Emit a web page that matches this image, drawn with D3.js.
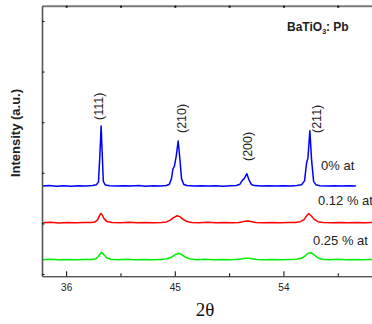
<!DOCTYPE html>
<html>
<head>
<meta charset="utf-8">
<script src="https://cdn.jsdelivr.net/npm/d3@7"></script>
<style>
  body { margin: 0; background: #fff; }
  svg { display: block; font-family: Arial, "Liberation Sans", sans-serif; }
</style>
</head>
<body>
<svg id="chart" width="372" height="324"></svg>
<script>
// XRD patterns, [2theta, counts]
const pattern0 = [
  [34.0,1739],[34.6,1748],[35.2,1735],[35.8,1744],[36.4,1736],[37.0,1746],[37.6,1740],[38.2,1748],
  [38.5,1762],[38.68,1820],[38.8,2380],[38.9,2925],[38.98,2420],[39.08,1830],[39.25,1758],[39.6,1744],
  [40.2,1737],[40.8,1746],[41.4,1738],[42.0,1747],[42.6,1736],[43.2,1745],[43.8,1741],[44.3,1750],
  [44.55,1775],[44.72,1880],[44.85,2080],[44.97,2130],[45.12,2330],[45.28,2628],[45.42,2280],[45.56,1880],
  [45.75,1770],[46.0,1748],[46.6,1737],[47.2,1746],[47.8,1739],[48.4,1745],[49.0,1736],[49.6,1744],
  [50.1,1750],[50.4,1775],[50.6,1850],[50.75,1885],[50.97,1982],[51.15,1860],[51.35,1768],[51.6,1747],
  [52.2,1738],[52.8,1746],[53.4,1737],[54.0,1744],[54.6,1739],[55.1,1748],[55.5,1765],[55.75,1840],
  [55.92,2200],[56.03,2290],[56.19,2832],[56.33,2260],[56.5,1830],[56.7,1762],[57.0,1746],[57.6,1738],
  [58.2,1745],[58.8,1737],[59.4,1744],[60.0,1739]
];
const pattern12 = [
  [34.0,1014],[34.7,1022],[35.4,1010],[36.1,1019],[36.8,1012],[37.5,1020],[38.1,1016],[38.4,1030],
  [38.6,1070],[38.75,1150],[38.88,1199],[39.0,1160],[39.15,1090],[39.4,1036],[39.8,1018],[40.5,1012],
  [41.2,1021],[41.9,1013],[42.6,1019],[43.3,1011],[43.9,1020],[44.3,1030],[44.6,1060],[44.9,1115],
  [45.2,1152],[45.45,1130],[45.7,1080],[46.0,1036],[46.4,1018],[47.0,1012],[47.7,1021],[48.4,1013],
  [49.1,1019],[49.8,1012],[50.3,1020],[50.6,1032],[50.85,1045],[51.05,1047],[51.3,1036],[51.7,1020],
  [52.3,1012],[53.0,1020],[53.7,1013],[54.4,1019],[55.0,1018],[55.4,1035],[55.7,1075],[55.95,1160],
  [56.11,1192],[56.3,1150],[56.55,1080],[56.85,1034],[57.3,1017],[58.0,1012],[58.7,1020],[59.4,1013],
  [60.1,1019],[60.8,1012],[61.5,1018],[62.0,1014]
];
const pattern25 = [
  [34.0,283],[34.7,290],[35.4,280],[36.1,288],[36.8,281],[37.5,289],[38.1,286],[38.45,300],
  [38.68,350],[38.92,429],[39.1,390],[39.35,320],[39.7,292],[40.3,282],[41.0,290],[41.7,281],
  [42.4,288],[43.1,280],[43.8,289],[44.3,298],[44.7,330],[45.05,385],[45.35,409],[45.6,380],
  [45.9,330],[46.3,295],[46.8,284],[47.5,290],[48.2,281],[48.9,288],[49.6,280],[50.2,290],
  [50.6,300],[50.85,310],[51.1,310],[51.4,300],[51.8,288],[52.4,281],[53.1,289],[53.8,282],
  [54.5,288],[55.1,292],[55.5,310],[55.8,360],[56.05,410],[56.3,421],[56.55,380],[56.85,320],
  [57.2,292],[57.8,283],[58.5,290],[59.2,281],[59.9,288],[60.6,282],[61.3,289],[62.0,284]
];

const seriesNames = ["0% at", "0.12 % at", "0.25 % at"];
const peakNames = ["(111)", "(210)", "(200)", "(211)"];
const xMajorTicks = [36, 45, 54];
const xMinorTicks = [40.5, 49.5, 58.5];
const yTicks = [0, 1000, 2000, 3000, 4000, 5000];

const svg = d3.select("#chart");

// plot frame: left edge at 42, bottom axis at 276
const x = d3.scaleLinear().domain([34, 62]).range([42, 380]);
const y = d3.scaleLinear().domain([-45, 5302]).range([276.3, 5.7]);

const colors = ["#0000ff", "#ff0000", "#00ee00"];
const patterns = [pattern0, pattern12, pattern25];

const line = d3.line()
  .x(d => x(d[0]))
  .y(d => y(d[1]));

svg.append("g")
  .selectAll("path")
  .data(patterns)
  .join("path")
  .attr("d", line)
  .attr("fill", "none")
  .attr("stroke", (d, i) => colors[i])
  .attr("stroke-width", 1.5)
  .attr("stroke-linejoin", "round");

// axes
const bottomAxis = svg.append("g")
  .attr("transform", `translate(0,${y.range()[0]})`)
  .call(d3.axisBottom(x).tickValues(xMajorTicks).tickSizeInner(-5).tickSizeOuter(0).tickPadding(8));
bottomAxis.select(".domain").attr("stroke", "#111");
bottomAxis.selectAll("text").attr("font-size", 10).attr("font-family", "Arial, 'Liberation Sans', sans-serif").attr("fill", "#222");

svg.append("g")
  .attr("transform", `translate(0,${y.range()[0]})`)
  .call(d3.axisBottom(x).tickValues(xMinorTicks).tickSizeInner(-3).tickSizeOuter(0).tickFormat(""))
  .select(".domain").remove();

const topAxis = svg.append("g")
  .attr("transform", `translate(0,${y.range()[1]})`)
  .call(d3.axisTop(x).tickValues(xMajorTicks.concat(xMinorTicks)).tickSizeInner(-2).tickSizeOuter(0).tickFormat(""));
topAxis.select(".domain").attr("stroke", "#7a7a7a").attr("stroke-width", 2);
topAxis.selectAll(".tick line").attr("stroke", "#111").attr("stroke-width", 2);

const leftAxis = svg.append("g")
  .attr("transform", `translate(${x.range()[0]},0)`)
  .call(d3.axisLeft(y).tickValues(yTicks).tickSizeInner(-2.5).tickSizeOuter(0).tickFormat(""));
leftAxis.select(".domain").attr("stroke", "#555").attr("stroke-width", 1.6);
leftAxis.selectAll(".tick line").attr("stroke", "#111");

// peak labels (rotated)
const labelTheta = [38.65, 45.55, 51.05, 56.75];
const labelBottom = [120, 133, 161, 133];
svg.append("g")
  .selectAll("text")
  .data(peakNames)
  .join("text")
  .attr("transform", (d, i) => `translate(${x(labelTheta[i])},${labelBottom[i]}) rotate(-90)`)
  .attr("dy", "0.35em")
  .attr("font-size", 12.5)
  .attr("fill", "#222")
  .text(d => d);

// series labels
const nameX = [321, 318, 313];
const nameY = [170, 205, 245];
svg.append("g")
  .selectAll("text")
  .data(seriesNames)
  .join("text")
  .attr("x", (d, i) => nameX[i])
  .attr("y", (d, i) => nameY[i])
  .attr("font-size", 13)
  .attr("fill", "#222")
  .text(d => d);

// title
const title = svg.append("text")
  .attr("x", 287)
  .attr("y", 31)
  .attr("font-size", 12)
  .attr("font-weight", "bold")
  .attr("fill", "#222");
title.append("tspan").text("BaTiO");
title.append("tspan").attr("font-size", 7).attr("dy", 3).text("3");
title.append("tspan").attr("dy", -3).text(": Pb");

// axis titles
svg.append("text")
  .attr("transform", "translate(20,133) rotate(-90)")
  .attr("text-anchor", "middle")
  .attr("font-size", 13)
  .attr("font-weight", "bold")
  .attr("fill", "#222")
  .text("Intensity (a.u.)");

svg.append("text")
  .attr("x", 205)
  .attr("y", 316)
  .attr("text-anchor", "middle")
  .attr("font-family", "'Liberation Serif', 'Times New Roman', serif")
  .attr("font-size", 19)
  .attr("fill", "#111")
  .text("2θ");
</script>
</body>
</html>
